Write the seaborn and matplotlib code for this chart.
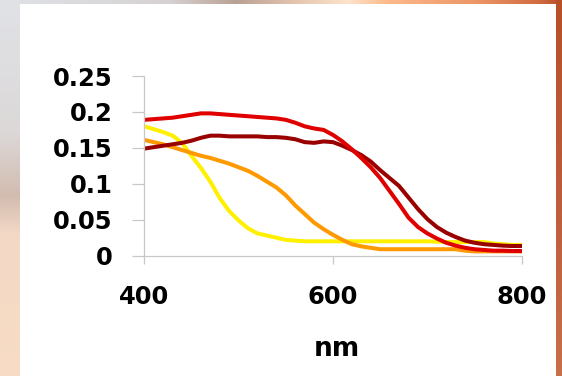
import numpy as np
import pandas as pd
import matplotlib
matplotlib.use("Agg")
import matplotlib.pyplot as plt
from matplotlib.patches import Rectangle
from matplotlib.colors import to_rgb
import seaborn as sns

# Wavelength grid (nm) and absorbance of the four samples
wavelength = list(range(400, 801, 10))

red = [0.189, 0.190, 0.191, 0.192, 0.194, 0.196, 0.198, 0.198, 0.197, 0.196,
       0.195, 0.194, 0.193, 0.192, 0.191, 0.189, 0.185, 0.180, 0.177, 0.175,
       0.168, 0.159, 0.148, 0.136, 0.123, 0.108, 0.090, 0.072, 0.053, 0.040,
       0.031, 0.024, 0.018, 0.014, 0.011, 0.009, 0.008, 0.007, 0.007, 0.0065,
       0.0065]

dark_red = [0.149, 0.151, 0.153, 0.155, 0.157, 0.160, 0.164, 0.167, 0.167, 0.166,
            0.166, 0.166, 0.166, 0.165, 0.165, 0.164, 0.162, 0.158, 0.157, 0.159,
            0.158, 0.153, 0.147, 0.140, 0.131, 0.119, 0.108, 0.097, 0.081, 0.065,
            0.051, 0.040, 0.032, 0.026, 0.021, 0.018, 0.016, 0.015, 0.014, 0.0135,
            0.0135]

orange = [0.161, 0.158, 0.155, 0.151, 0.147, 0.143, 0.139, 0.136, 0.132, 0.128,
          0.123, 0.118, 0.111, 0.103, 0.095, 0.084, 0.070, 0.058, 0.046, 0.037,
          0.029, 0.022, 0.016, 0.013, 0.011, 0.009, 0.009, 0.009, 0.009, 0.009,
          0.009, 0.009, 0.009, 0.009, 0.007, 0.006, 0.006, 0.006, 0.006, 0.006,
          0.006]

yellow = [0.180, 0.176, 0.172, 0.167, 0.157, 0.139, 0.122, 0.103, 0.080, 0.062,
          0.049, 0.038, 0.031, 0.028, 0.025, 0.022, 0.021, 0.020, 0.020, 0.020,
          0.020, 0.020, 0.020, 0.020, 0.020, 0.020, 0.020, 0.020, 0.020, 0.020,
          0.020, 0.0195, 0.019, 0.019, 0.019, 0.019, 0.019, 0.017, 0.016, 0.015,
          0.015]

series_names = ["yellow", "orange", "dark red", "red"]
series_values = [yellow, orange, dark_red, red]
series_colors = ["#fff000", "#ff9900", "#990000", "#e00000"]

x_ticks = [400, 600, 800]
y_ticks = [0, 0.05, 0.1, 0.15, 0.2, 0.25]
y_tick_labels = ["0", "0.05", "0.1", "0.15", "0.2", "0.25"]

df = pd.concat(
    [pd.DataFrame({"nm": wavelength, "absorbance": vals, "sample": name})
     for name, vals in zip(series_names, series_values)],
    ignore_index=True,
)

sns.set_theme(style="white")
plt.rcParams["font.family"] = ["DejaVu Sans"]

W, H = 562, 376
fig = plt.figure(figsize=(W / 100, H / 100), dpi=100)

# Slide backdrop: warm gradient frame around a white panel
def ramp(stops, n):
    pos = np.array([p for p, _ in stops])
    cols = np.array([to_rgb(c) for _, c in stops])
    t = np.linspace(0, 1, n)
    return np.stack([np.interp(t, pos, cols[:, k]) for k in range(3)], axis=-1)

top_row = ramp([(0.0, "#dfe2e6"), (0.30, "#d6d2d3"), (0.42, "#b9a194"),
                (0.53, "#e6c6b0"), (0.62, "#fde3cb"), (0.69, "#fcb98a"),
                (0.85, "#ec9568"), (0.96, "#d26a40"), (1.0, "#b65028")], W)
left_col = ramp([(0.0, "#e0e2e6"), (0.35, "#dcd8d8"), (0.52, "#d2bcb0"),
                 (0.62, "#f2d8c6"), (1.0, "#f8dcc4")], H)
right_col = ramp([(0.0, "#b85028"), (0.5, "#bc5c3a"), (1.0, "#c8704a")], H)

bg = np.tile(top_row[None, :, :], (H, 1, 1))
bg[:, :20, :] = left_col[:, None, :]
bg[:, 556:, :] = right_col[:, None, :]

bg_ax = fig.add_axes([0, 0, 1, 1], zorder=-10)
bg_ax.imshow(bg, aspect="auto", extent=[0, 1, 0, 1], origin="upper")
bg_ax.set_axis_off()

fig.patches.append(Rectangle((20 / W, 0), (556 - 20) / W, (H - 4) / H,
                             transform=fig.transFigure, facecolor="white",
                             edgecolor="none", zorder=-5))

ax = fig.add_axes([144.3 / W, 120.3 / H, 377.4 / W, 179.7 / H])
ax.patch.set_alpha(0)

sns.lineplot(data=df, x="nm", y="absorbance", hue="sample",
             hue_order=series_names, palette=series_colors,
             linewidth=2.9, legend=False, ax=ax)

ax.set_xlim(400, 800)
ax.set_ylim(0, 0.25)
ax.set_xticks(x_ticks)
ax.set_xticklabels([str(v) for v in x_ticks])
ax.set_yticks(y_ticks)
ax.set_yticklabels(y_tick_labels)

for side in ("top", "right"):
    ax.spines[side].set_visible(False)
for side in ("left", "bottom"):
    ax.spines[side].set_color("#c8c8c8")
    ax.spines[side].set_linewidth(0.9)

ax.tick_params(axis="y", direction="out", length=8.6, width=0.9,
               color="#c8c8c8", pad=14, labelsize=17.5, left=True)
ax.tick_params(axis="x", direction="out", length=5.8, width=0.9,
               color="#c8c8c8", pad=15, labelsize=17.5, bottom=True)
for lbl in ax.get_xticklabels() + ax.get_yticklabels():
    lbl.set_fontweight("bold")
    lbl.set_color("black")

ax.set_ylabel("")
ax.set_xlabel("nm", fontsize=19, fontweight="bold", color="black",
              verticalalignment="baseline")
ax.xaxis.set_label_coords((337 - 144.3) / 377.4, -(356 - 255.7) / 179.7)

fig.savefig("out.png", dpi=100)
